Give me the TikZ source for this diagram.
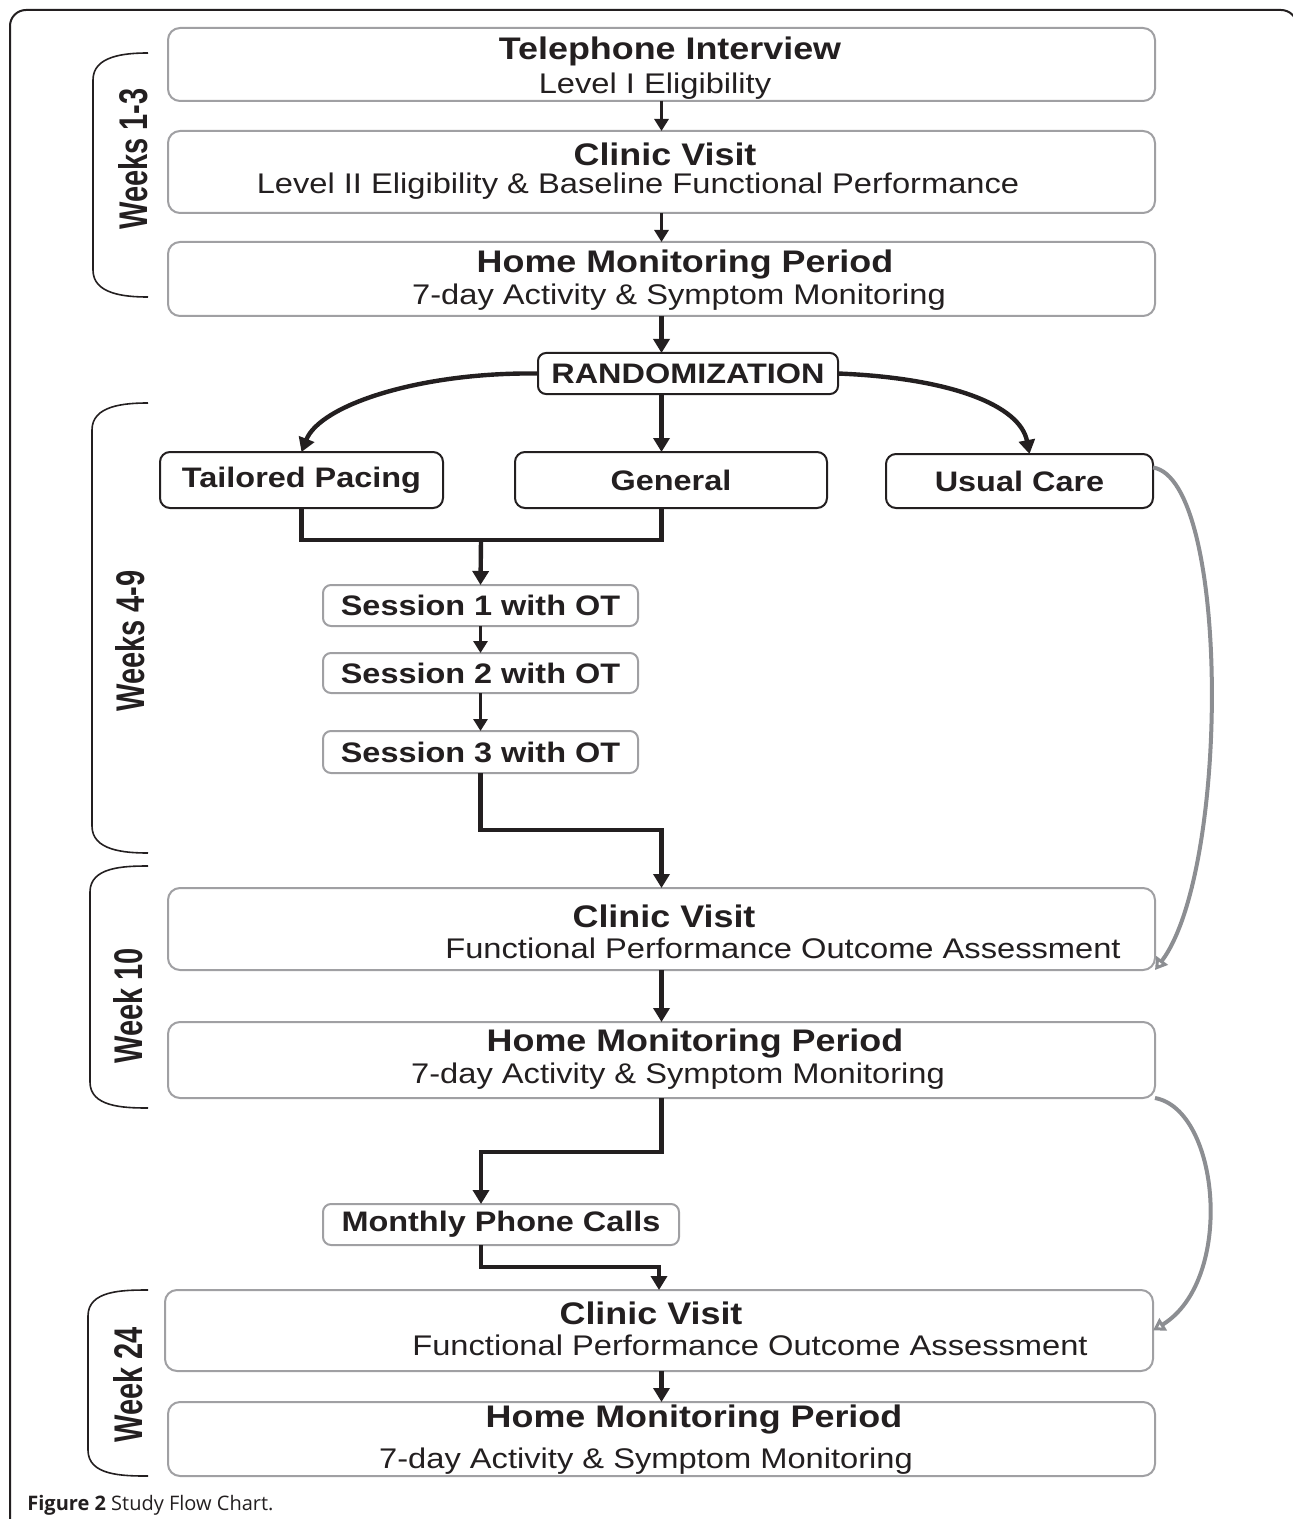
\documentclass[tikz,border=0pt]{standalone}
\usepackage{fontspec}
\setmainfont{Liberation Sans}
\newfontfamily\capfont{Open Sans}
\usepackage{graphicx}
\usetikzlibrary{arrows.meta,calc,positioning}

\definecolor{ink}{RGB}{35,31,32}
\definecolor{boxgray}{RGB}{160,160,163}
\definecolor{linkgray}{RGB}{140,142,146}

% the source picture is stretched sideways, so the text is too
\newcommand{\wide}[1]{\scalebox{1.15}[1]{#1}}
\newcommand{\tall}[1]{\scalebox{1}[1.38]{#1}}

\tikzset{
  graybox/.style={draw=boxgray, line width=1pt, rounded corners=6pt, inner sep=0pt, outer sep=0pt},
  smallbox/.style={graybox, rounded corners=4pt, text=ink, font=\fontsize{14.1}{16}\selectfont\bfseries},
  blackbox/.style={draw=ink, line width=1pt, rounded corners=5pt, inner sep=0pt, outer sep=0pt, text=ink, font=\fontsize{14.1}{16}\selectfont\bfseries},
  title/.style={text=ink, inner sep=0pt, font=\fontsize{15.6}{18}\selectfont\bfseries},
  sub/.style={text=ink, inner sep=0pt, font=\fontsize{14.2}{16}\selectfont},
  weeks/.style={text=ink, inner sep=0pt, rotate=90, font=\fontsize{14.5}{16}\selectfont\bfseries},
  bracket/.style={draw=ink, line width=0.8pt},
  link/.style={draw=ink, line width=2.2pt},
  arrow/.style={link, -{Triangle[length=7pt,width=8pt]}},
  short arrow/.style={draw=ink, line width=1.7pt, -{Triangle[length=6pt,width=7pt]}},
  back arrow/.style={draw=linkgray, line width=2pt, -{Triangle[open,length=6pt,width=7pt]}}
}

\begin{document}
\begin{tikzpicture}[x=0.5pt, y=-0.5pt]
    \useasboundingbox (0,0) rectangle (1293,1519);
    \clip (0,0) rectangle (1293,1519);
    \draw[ink, line width=1pt, rounded corners=8pt] (10,10) rectangle (1297,1560);

    % weeks 1-3
    \node[graybox, minimum width=493.5pt, minimum height=36.5pt] (tel) at (661.5,64.5) {};
    \node[title] (telT) at (670,51) {\wide{Telephone Interview}};
    \node[sub] (telS) at (655,86) {\wide{Level I Eligibility}};

    \node[graybox, minimum width=493.5pt, minimum height=41pt] (clinic1) at (661.5,172) {};
    \node[title] (clinic1T) at (665,154) {\wide{Clinic Visit}};
    \node[sub] (clinic1S) at (638,186) {\wide{Level II Eligibility \& Baseline Functional Performance}};

    \node[graybox, minimum width=493.5pt, minimum height=37pt] (home1) at (661.5,279) {};
    \node[title] (home1T) at (685,265) {\wide{Home Monitoring Period}};
    \node[sub] (home1S) at (679,297) {\wide{7-day Activity \& Symptom Monitoring}};

    % randomization and arms
    \node[blackbox, rounded corners=4pt, minimum width=150pt, minimum height=20.5pt] (rand) at (688,373.5) {\wide{RANDOMIZATION}};
    \node[blackbox, minimum width=141.5pt, minimum height=28pt] (tailored) at (301.5,480) {\wide{Tailored Pacing}};
    \node[blackbox, minimum width=156pt, minimum height=28pt] (general) at (671,480) {\wide{General}};
    \node[blackbox, minimum width=133.5pt, minimum height=27pt] (usual) at (1019.5,481) {\wide{Usual Care}};

    \node[smallbox, minimum width=157.5pt, minimum height=20.5pt] (sess1) at (480.5,605.5) {\wide{Session 1 with OT}};
    \node[smallbox, minimum width=157.5pt, minimum height=20pt] (sess2) at (480.5,673) {\wide{Session 2 with OT}};
    \node[smallbox, minimum width=157.5pt, minimum height=21pt] (sess3) at (480.5,752) {\wide{Session 3 with OT}};

    % week 10
    \node[graybox, minimum width=493.5pt, minimum height=41pt] (clinic2) at (661.5,929) {};
    \node[title] (clinic2T) at (664,916) {\wide{Clinic Visit}};
    \node[sub] (clinic2S) at (783,948) {\wide{Functional Performance Outcome Assessment}};

    \node[graybox, minimum width=493.5pt, minimum height=38pt] (home2) at (661.5,1060) {};
    \node[title] (home2T) at (695,1043) {\wide{Home Monitoring Period}};
    \node[sub] (home2S) at (678,1076) {\wide{7-day Activity \& Symptom Monitoring}};

    \node[smallbox, minimum width=178pt, minimum height=20.5pt] (monthly) at (501,1224.5) {\wide{Monthly Phone Calls}};

    % week 24
    \node[graybox, minimum width=494pt, minimum height=40.5pt] (clinic3) at (659,1330.5) {};
    \node[title] (clinic3T) at (651,1313) {\wide{Clinic Visit}};
    \node[sub] (clinic3S) at (750,1345) {\wide{Functional Performance Outcome Assessment}};

    \node[graybox, minimum width=493.5pt, minimum height=37pt] (home3) at (661.5,1439) {};
    \node[title] (home3T) at (694,1419) {\wide{Home Monitoring Period}};
    \node[sub] (home3S) at (646,1461) {\wide{7-day Activity \& Symptom Monitoring}};

    % brackets and their labels
    \draw[bracket] (148,53) to[out=180,in=90] (93,80) -- (93,270) to[out=-90,in=180] (148,297);
    \draw[bracket] (148,403) to[out=180,in=90] (92,430) -- (92,826) to[out=-90,in=180] (148,853);
    \draw[bracket] (148,866) to[out=180,in=90] (90,892) -- (90,1082) to[out=-90,in=180] (148,1108);
    \draw[bracket] (148,1290) to[out=180,in=90] (88,1316) -- (88,1450) to[out=-90,in=180] (148,1476);
    \node[weeks] (wk13) at (133,159) {\tall{Weeks 1-3}};
    \node[weeks] (wk49) at (130,641) {\tall{Weeks 4-9}};
    \node[weeks] (wk10) at (128,1006) {\tall{Week 10}};
    \node[weeks] (wk24) at (128,1385) {\tall{Week 24}};

    % connectors
    \draw[short arrow] (tel) -- (clinic1);
    \draw[short arrow] (clinic1) -- (home1);
    \draw[arrow] (home1.south) -- (home1.south |- rand.north);
    \draw[arrow] (home1.south |- rand.south) -- (home1.south |- general.north);
    \draw[arrow] (rand.west) .. controls (420,372) and (320,405) .. (tailored.north);
    \draw[arrow] (rand.east) .. controls (950,378) and (1020,405) .. ([xshift=5pt]usual.north);

    \coordinate (merge) at (481,540);
    \draw[link] (tailored.south) |- (merge) -| (home1.south |- general.south);
    \draw[arrow] (merge) -- (sess1.north);
    \draw[short arrow] (sess1) -- (sess2);
    \draw[short arrow] (sess2) -- (sess3);
    \draw[arrow] (sess3.south) -- ++(0,57) -| (clinic2.north);
    \draw[arrow] (clinic2) -- (home2);
    \draw[arrow] (home2.south) -- ++(0,54) -| (monthly.north -| merge);
    \draw[arrow] (monthly.south -| merge) -- ++(0,22) -| (clinic3.north);
    \draw[arrow] (clinic3.south -| home3.north) -- (home3.north);

    \draw[back arrow] ($(usual.east)!0.5!(usual.north east)$) .. controls (1230,480) and (1230,870) .. (clinic2.south east);
    \draw[back arrow] (home2.south east) .. controls (1220,1110) and (1235,1280) .. (clinic3.east);

    \node[anchor=base west, inner sep=0pt, text=ink, font=\capfont\fontsize{10}{12}\selectfont] (caption) at (27,1510) {\textbf{Figure 2} Study Flow Chart.};
\end{tikzpicture}
\end{document}
